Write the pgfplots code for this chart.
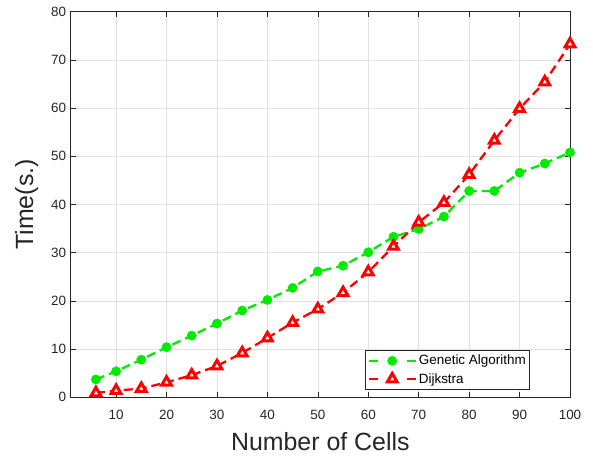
\documentclass[border=0pt]{standalone}
\usepackage{fontspec}
\setmainfont{Liberation Sans}
\usepackage{pgfplots}
\pgfplotsset{compat=1.18}
\definecolor{ggreen}{RGB}{0,235,0}
\definecolor{gridc}{RGB}{225,225,225}
\definecolor{axc}{RGB}{38,38,38}
\begin{document}
\begin{tikzpicture}
\begin{axis}[
  scale only axis,
  width=499.3bp, height=385.6bp,
  xmin=1, xmax=100, ymin=0, ymax=80,
  xtick={10,20,...,100}, ytick={0,10,...,80},
  grid=major,
  major grid style={gridc, line width=0.6bp},
  axis line style={axc, line width=0.6bp},
  tick style={axc, line width=0.6bp},
  tick align=inside,
  major tick length=5bp,
  xtick pos=both, ytick pos=both,
  /pgf/number format/assume math mode=true,
  ticklabel style={font=\fontsize{13.5}{16}\selectfont, text=axc},
  xticklabel style={yshift=-9bp},
  yticklabel style={xshift=-1bp},
  xlabel={Number of Cells},
  ylabel={Time(s.)},
  label style={font=\fontsize{25}{30}\selectfont, text=axc},
  xlabel style={yshift=-6bp},
  ylabel style={yshift=6bp},
  legend style={at={(0.92,0.019)}, anchor=south east,
    font=\fontsize{13.5}{16}\selectfont, draw=axc, line width=0.6bp,
    inner xsep=2bp, inner ysep=3bp, row sep=3bp, cells={anchor=west}},
  legend image code/.code={
    \draw[#1, solid] (0bp,0bp) -- (9bp,0bp);
    \draw[#1, solid] (38bp,0bp) -- (47bp,0bp);
    \draw[#1, draw=none] plot coordinates {(23.5bp,0bp)};
  },
]
\addplot[ggreen, line width=2.3bp, dash pattern=on 9bp off 5bp,
  mark=*, mark size=4.6bp, mark options={solid, fill=ggreen, draw=ggreen, line width=0.5bp}]
coordinates {
(6,3.7)(10,5.4)(15,7.8)(20,10.4)(25,12.8)(30,15.3)(35,18.0)(40,20.2)(45,22.7)(50,26.1)
(55,27.3)(60,30.1)(65,33.3)(70,34.9)(75,37.5)(80,42.8)(85,42.8)(90,46.6)(95,48.5)(100,50.8)};
\addlegendentry{Genetic Algorithm}
\addplot[red, line width=2.3bp, dash pattern=on 9bp off 5bp,
  mark=triangle*, mark size=5.6bp, mark options={solid, fill=white, draw=red, line width=3bp}]
coordinates {
(6,0.9)(10,1.4)(15,1.8)(20,3.1)(25,4.6)(30,6.5)(35,9.2)(40,12.3)(45,15.5)(50,18.3)
(55,21.7)(60,26.0)(65,31.3)(70,36.3)(75,40.4)(80,46.2)(85,53.3)(90,59.9)(95,65.4)(100,73.3)};
\addlegendentry{Dijkstra}
\end{axis}
\pgfresetboundingbox
\path (current axis.south west) ++(-70.7bp,-60.7bp) rectangle ++(593bp,458bp);
\end{tikzpicture}
\end{document}
